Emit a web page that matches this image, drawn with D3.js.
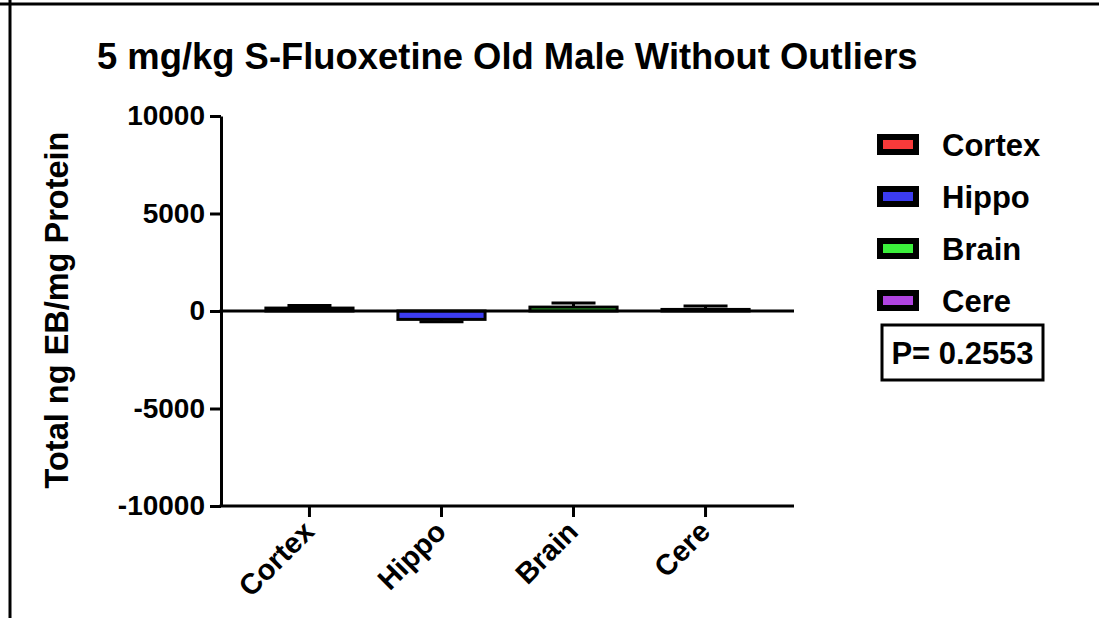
<!DOCTYPE html>
<html>
<head>
<meta charset="utf-8">
<script src="https://cdn.jsdelivr.net/npm/d3@7/dist/d3.min.js"></script>
<style>
  body { margin: 0; background: #fff; }
  text { font-family: "Liberation Sans", Arial, sans-serif; font-weight: bold; fill: #000; }
</style>
</head>
<body>
<script>
// data
var categories = ["Cortex", "Hippo", "Brain", "Cere"];
var means = [150, -430, 200, 80];
var sems = [130, 120, 210, 180];
var colors = ["#f83a3a", "#3c3cf0", "#3cf03c", "#b044e0"];
var yTicks = [-10000, -5000, 0, 5000, 10000];
var title = "5 mg/kg S-Fluoxetine Old Male Without Outliers";
var yTitle = "Total ng EB/mg Protein";
var pText = "P= 0.2553";

var width = 1099;
var height = 618;
var svg = d3.select("body")
    .append("svg")
    .attr("width", width)
    .attr("height", height);

// frame (top and left edges)
svg.append("line").attr("x1", 0).attr("x2", width).attr("y1", 4).attr("y2", 4)
    .style("stroke", "#000").style("stroke-width", 3);
svg.append("line").attr("x1", 10).attr("x2", 10).attr("y1", 0).attr("y2", height)
    .style("stroke", "#000").style("stroke-width", 3);

var x = d3.scaleBand()
    .domain(categories)
    .range([221, 794])
    .padding(0.34);
var y = d3.scaleLinear()
    .domain([-10000, 10000])
    .range([506, 116]);

// title
svg.append("text")
    .attr("x", 97)
    .attr("y", 69)
    .style("font-size", "36.4px")
    .text(title);

// y axis
var yAxis = d3.axisLeft(y)
    .tickValues(yTicks)
    .tickFormat(function(d) { return String(d); })
    .tickSize(11).tickPadding(5).tickSizeOuter(0);
var gy = svg.append("g").attr("transform", "translate(221,0)").call(yAxis);
gy.select(".domain").style("stroke", "#000").style("stroke-width", 3);
gy.selectAll(".tick line").style("stroke", "#000").style("stroke-width", 3);
gy.selectAll(".tick text")
    .style("font-size", "28px")
    .style("font-family", "'Liberation Sans', Arial, sans-serif")
    .style("font-weight", "bold");

// x axis at bottom
var xAxis = d3.axisBottom(x).tickSize(11).tickSizeOuter(0).tickFormat("");
var gx = svg.append("g").attr("transform", "translate(0,506)").call(xAxis);
gx.select(".domain").attr("d", "M219.5,0H794").style("stroke", "#000").style("stroke-width", 3);
gx.selectAll(".tick line").style("stroke", "#000").style("stroke-width", 3);

svg.selectAll(".xlab")
    .data(categories)
    .enter()
    .append("text")
    .attr("class", "xlab")
    .attr("transform", function(d) {
        return "translate(" + (x(d) + x.bandwidth() / 2 - 8) + ",519) rotate(-45)";
    })
    .attr("text-anchor", "end")
    .attr("dy", "0.7em")
    .style("font-size", "29px")
    .text(function(d) { return d; });

// y title
svg.append("text")
    .attr("transform", "translate(68,310) rotate(-90)")
    .attr("text-anchor", "middle")
    .style("font-size", "32.5px")
    .text(yTitle);

// bars
var rows = categories.map(function(c, i) {
    return { name: c, mean: means[i], sem: sems[i], color: colors[i] };
});

svg.selectAll(".bar")
    .data(rows)
    .enter()
    .append("rect")
    .attr("class", "bar")
    .attr("x", function(d) { return x(d.name); })
    .attr("width", x.bandwidth())
    .attr("y", function(d) { return Math.min(y(d.mean), y(0)); })
    .attr("height", function(d) { return Math.abs(y(d.mean) - y(0)); })
    .style("fill", function(d) { return d.color; })
    .style("stroke", "#000")
    .style("stroke-width", 3);

// zero line
svg.append("line")
    .attr("x1", 219.5).attr("x2", 794)
    .attr("y1", y(0)).attr("y2", y(0))
    .style("stroke", "#000").style("stroke-width", 3);

// error bars (one-sided, away from zero)
var err = svg.selectAll(".err")
    .data(rows)
    .enter()
    .append("g")
    .attr("class", "err");
function tipY(d) { return y(d.mean + (d.mean >= 0 ? d.sem : -d.sem)); }
err.append("line")
    .attr("x1", function(d) { return x(d.name) + x.bandwidth() / 2; })
    .attr("x2", function(d) { return x(d.name) + x.bandwidth() / 2; })
    .attr("y1", function(d) { return y(d.mean); })
    .attr("y2", tipY)
    .style("stroke", "#000").style("stroke-width", 3);
err.append("line")
    .attr("x1", function(d) { return x(d.name) + x.bandwidth() / 2 - 22; })
    .attr("x2", function(d) { return x(d.name) + x.bandwidth() / 2 + 22; })
    .attr("y1", tipY)
    .attr("y2", tipY)
    .style("stroke", "#000").style("stroke-width", 3);

// legend
var legend = svg.selectAll(".leg")
    .data(rows)
    .enter()
    .append("g")
    .attr("class", "leg")
    .attr("transform", function(d, i) { return "translate(877," + (144.5 + i * 52) + ")"; });
legend.append("rect")
    .attr("x", 3).attr("y", -7.5)
    .attr("width", 36).attr("height", 15)
    .style("fill", function(d) { return d.color; })
    .style("stroke", "#000")
    .style("stroke-width", 6);
legend.append("text")
    .attr("x", 65)
    .attr("y", 11)
    .style("font-size", "31px")
    .text(function(d) { return d.name; });

// p value box
svg.append("rect")
    .attr("x", 882).attr("y", 325)
    .attr("width", 161).attr("height", 55)
    .style("fill", "none")
    .style("stroke", "#000")
    .style("stroke-width", 3);
svg.append("text")
    .attr("x", 962.5)
    .attr("y", 364)
    .attr("text-anchor", "middle")
    .style("font-size", "31px")
    .text(pText);
</script>
</body>
</html>
